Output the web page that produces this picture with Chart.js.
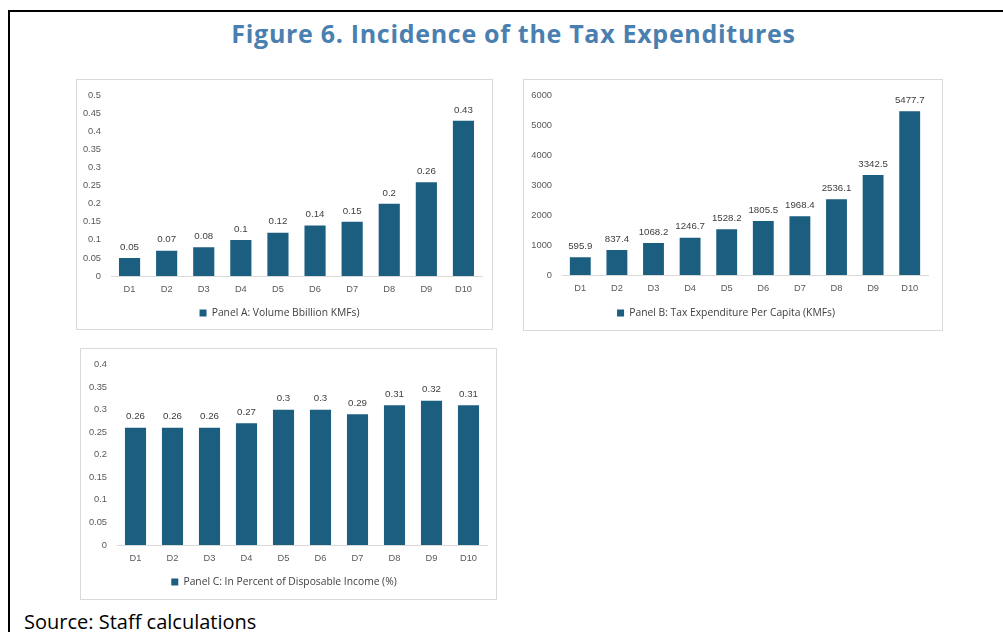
<!DOCTYPE html>
<html>
<head>
<meta charset="utf-8">
<script src="https://cdn.jsdelivr.net/npm/chart.js@4.4.1/dist/chart.umd.min.js"></script>
<style>
  body { margin: 0; background: #fff; width: 1003px; height: 632px; overflow: hidden; position: relative; }
  .frame-top { position: absolute; left: 8px; top: 10px; width: 995px; height: 2px; background: #000; }
  .frame-left { position: absolute; left: 8px; top: 10px; width: 2px; height: 622px; background: #000; }
  h1 { position: absolute; left: 0; top: 21px; width: 1027px; margin: 0; text-align: center;
       font: 700 25px/25px "Open Sans", sans-serif; letter-spacing: 0.7px; color: #4a80b0; }
  .panel { position: absolute; border: 1px solid #d9d9d9; box-sizing: border-box; }
  .panel canvas { position: absolute; left: 0; top: 0; }
  .source { position: absolute; left: 24px; top: 612px; margin: 0; font: 20px/20px "Open Sans", sans-serif; color: #000; }
</style>
</head>
<body>
<div class="frame-top"></div>
<div class="frame-left"></div>
<h1>Figure 6. Incidence of the Tax Expenditures</h1>

<div class="panel" style="left:76px;top:79px;width:417px;height:251px"><canvas id="panelA"></canvas></div>
<div class="panel" style="left:523px;top:79px;width:420px;height:252px"><canvas id="panelB"></canvas></div>
<div class="panel" style="left:80px;top:348px;width:417px;height:252px"><canvas id="panelC"></canvas></div>

<p class="source">Source: Staff calculations</p>

<script>
// deciles
const deciles = ['D1', 'D2', 'D3', 'D4', 'D5', 'D6', 'D7', 'D8', 'D9', 'D10'];

// Panel A: volume, billion KMF
const volumeBn = [0.05, 0.07, 0.08, 0.1, 0.12, 0.14, 0.15, 0.2, 0.26, 0.43];
// Panel B: per capita, KMF
const perCapita = [595.9, 837.4, 1068.2, 1246.7, 1528.2, 1805.5, 1968.4, 2536.1, 3342.5, 5477.7];
// Panel C: share of disposable income, %
const pctIncome = [0.26, 0.26, 0.26, 0.27, 0.3, 0.3, 0.29, 0.31, 0.32, 0.31];

const legendA = 'Panel A: Volume Bbillion KMFs)';
const legendB = 'Panel B: Tax Expenditure Per Capita (KMFs)';
const legendC = 'Panel C: In Percent of Disposable Income (%)';

const barColor = '#1b5e80';
const tickFont = { family: '"Liberation Sans", Arial, sans-serif', size: 9.3 };

// value labels above each bar
const barValues = {
  id: 'barValues',
  afterDatasetsDraw(chart) {
    const ctx = chart.ctx;
    const ds = chart.data.datasets[0];
    ctx.save();
    ctx.font = '9.7px "Liberation Sans", Arial, sans-serif';
    ctx.fillStyle = '#404040';
    ctx.textAlign = 'center';
    ctx.textBaseline = 'middle';
    chart.getDatasetMeta(0).data.forEach((bar, i) => {
      ctx.fillText(String(ds.data[i]), bar.x, bar.y - 11);
    });
    ctx.restore();
  }
};

function makePanel(id, values, label, cfg) {
  const canvas = document.getElementById(id);
  const box = canvas.parentNode;
  canvas.width = box.clientWidth;
  canvas.height = box.clientHeight;
  canvas.style.width = box.clientWidth + 'px';
  canvas.style.height = box.clientHeight + 'px';

  return new Chart(canvas, {
    type: 'bar',
    data: {
      labels: deciles,
      datasets: [{
        label: label,
        data: values,
        backgroundColor: barColor,
        borderWidth: 0,
        barPercentage: 0.57,
        categoryPercentage: 1
      }]
    },
    options: {
      responsive: false,
      animation: false,
      layout: { padding: { top: 11, right: cfg.padRight, bottom: cfg.padBottom, left: 0 } },
      scales: {
        x: {
          grid: { display: false, drawTicks: false },
          border: { color: '#d9d9d9' },
          ticks: { font: tickFont, color: '#595959', padding: 8, maxRotation: 0 },
          afterFit(scale) { scale.height = cfg.xH; }
        },
        y: {
          min: 0,
          max: cfg.yMax,
          grid: { display: false, drawTicks: false },
          border: { display: false },
          ticks: {
            stepSize: cfg.yStep,
            font: tickFont,
            color: '#595959',
            padding: 10,
            callback: v => String(parseFloat(v.toFixed(2)))
          },
          afterFit(scale) { scale.width = cfg.yW; }
        }
      },
      plugins: {
        legend: {
          position: 'bottom',
          labels: {
            boxWidth: 7,
            boxHeight: 7,
            padding: 8,
            color: '#404040',
            font: { family: '"Open Sans", sans-serif', size: 10.3 }
          }
        },
        tooltip: { enabled: false }
      }
    },
    plugins: [barValues]
  });
}

makePanel('panelA', volumeBn, legendA, { yMax: 0.5, yStep: 0.05, yW: 34, padRight: 10, padBottom: 0.85, xH: 23.85 });
makePanel('panelB', perCapita, legendB, { yMax: 6000, yStep: 1000, yW: 38, padRight: 14, padBottom: 1.85, xH: 24.85 });
makePanel('panelC', pctIncome, legendC, { yMax: 0.4, yStep: 0.05, yW: 36, padRight: 9, padBottom: 1.85, xH: 23.85 });
</script>
</body>
</html>
